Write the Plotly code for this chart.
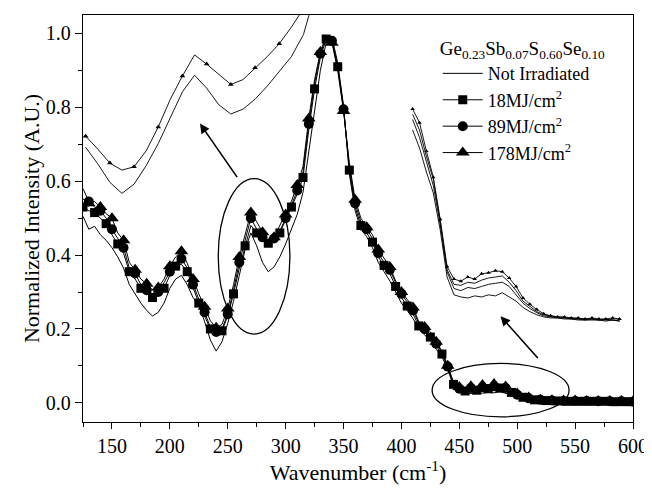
import plotly.graph_objects as go

# ---------------- data ----------------
wavenumber = [125, 130, 135, 140, 145, 150, 155, 160, 165, 170, 175, 180, 185, 190, 195,
              200, 205, 210, 215, 220, 225, 230, 235, 240, 245, 250, 255, 260, 265, 270,
              275, 280, 285, 290, 295, 300, 305, 310, 315, 320, 325, 330, 335, 340, 345,
              350, 355, 360, 365, 370, 375, 380, 385, 390, 395, 400, 405, 410, 415, 420,
              425, 430, 435, 440, 445, 450, 455, 460, 465, 470, 475, 480, 485, 490, 495,
              500, 505, 510, 515, 520, 525, 530, 535, 540, 545, 550, 555, 560, 565, 570,
              575, 580, 585, 590, 595, 600]

not_irradiated = [0.505, 0.470, 0.478, 0.455, 0.440, 0.420, 0.395, 0.365, 0.320, 0.295,
                  0.270, 0.250, 0.235, 0.245, 0.270, 0.310, 0.335, 0.345, 0.320, 0.285,
                  0.265, 0.220, 0.170, 0.140, 0.165, 0.215, 0.275, 0.345, 0.415, 0.460,
                  0.425, 0.380, 0.355, 0.368, 0.395, 0.430, 0.470, 0.510, 0.570, 0.680,
                  0.800, 0.900, 0.975, 0.990, 0.920, 0.805, 0.620, 0.520, 0.470, 0.450,
                  0.420, 0.380, 0.355, 0.330, 0.300, 0.270, 0.250, 0.228, 0.200, 0.185,
                  0.168, 0.145, 0.125, 0.090, 0.045, 0.028, 0.026, 0.025, 0.027, 0.026,
                  0.028, 0.027, 0.030, 0.026, 0.022, 0.016, 0.012, 0.009, 0.007, 0.006,
                  0.006, 0.005, 0.005, 0.004, 0.004, 0.004, 0.004, 0.003, 0.004, 0.003,
                  0.003, 0.003, 0.003, 0.003, 0.002, 0.002]

mj18 = [0.530, 0.520, 0.515, 0.500, 0.485, 0.455, 0.430, 0.405, 0.355, 0.335,
        0.310, 0.295, 0.285, 0.290, 0.310, 0.345, 0.370, 0.375, 0.355, 0.310,
        0.270, 0.235, 0.200, 0.185, 0.195, 0.235, 0.295, 0.365, 0.425, 0.480,
        0.460, 0.440, 0.432, 0.440, 0.460, 0.495, 0.530, 0.565, 0.610, 0.740,
        0.850, 0.935, 0.985, 0.985, 0.910, 0.800, 0.630, 0.530, 0.480, 0.460,
        0.435, 0.395, 0.372, 0.350, 0.315, 0.285, 0.262, 0.240, 0.208, 0.195,
        0.178, 0.155, 0.132, 0.095, 0.050, 0.034, 0.032, 0.035, 0.034, 0.036,
        0.038, 0.039, 0.040, 0.036, 0.028, 0.020, 0.015, 0.011, 0.008, 0.007,
        0.006, 0.006, 0.005, 0.005, 0.004, 0.005, 0.004, 0.004, 0.004, 0.003,
        0.004, 0.003, 0.003, 0.003, 0.003, 0.002]

mj89 = [0.580, 0.545, 0.530, 0.520, 0.500, 0.470, 0.445, 0.420, 0.365, 0.350,
        0.320, 0.305, 0.295, 0.300, 0.325, 0.355, 0.380, 0.390, 0.365, 0.320,
        0.280, 0.245, 0.205, 0.192, 0.200, 0.240, 0.305, 0.380, 0.440, 0.500,
        0.470, 0.448, 0.440, 0.445, 0.465, 0.500, 0.535, 0.575, 0.625, 0.755,
        0.865, 0.945, 0.990, 0.980, 0.905, 0.795, 0.640, 0.540, 0.490, 0.470,
        0.445, 0.405, 0.380, 0.360, 0.325, 0.295, 0.272, 0.250, 0.215, 0.200,
        0.185, 0.160, 0.138, 0.098, 0.052, 0.038, 0.037, 0.040, 0.039, 0.042,
        0.044, 0.045, 0.046, 0.040, 0.032, 0.022, 0.017, 0.012, 0.009, 0.008,
        0.007, 0.006, 0.006, 0.005, 0.005, 0.005, 0.004, 0.005, 0.004, 0.004,
        0.004, 0.004, 0.003, 0.004, 0.003, 0.003]

mj178 = [0.552, 0.540, 0.545, 0.530, 0.512, 0.500, 0.460, 0.440, 0.380, 0.360,
         0.335, 0.322, 0.305, 0.312, 0.335, 0.370, 0.395, 0.410, 0.378, 0.335,
         0.295, 0.260, 0.222, 0.203, 0.212, 0.255, 0.320, 0.395, 0.458, 0.515,
         0.490, 0.462, 0.435, 0.448, 0.480, 0.510, 0.545, 0.590, 0.640, 0.770,
         0.875, 0.950, 0.995, 0.975, 0.900, 0.790, 0.650, 0.550, 0.500, 0.475,
         0.455, 0.415, 0.390, 0.368, 0.330, 0.300, 0.280, 0.258, 0.220, 0.205,
         0.192, 0.165, 0.140, 0.100, 0.055, 0.043, 0.041, 0.045, 0.043, 0.048,
         0.049, 0.051, 0.050, 0.044, 0.036, 0.025, 0.019, 0.014, 0.010, 0.008,
         0.007, 0.007, 0.006, 0.006, 0.005, 0.006, 0.005, 0.005, 0.006, 0.005,
         0.004, 0.005, 0.004, 0.005, 0.004, 0.004]

series_names = ["Not Irradiated", "18MJ/cm<sup>2</sup>", "89MJ/cm<sup>2</sup>", "178MJ/cm<sup>2</sup>"]
legend_title = "Ge<sub>0.23</sub>Sb<sub>0.07</sub>S<sub>0.60</sub>Se<sub>0.10</sub>"

x_ticks = [150, 200, 250, 300, 350, 400, 450, 500, 550, 600]
y_ticks = [0.0, 0.2, 0.4, 0.6, 0.8, 1.0]

# index windows used for the magnified insets
left_inset = slice(20, 41)    # 225 .. 325 cm-1
right_inset = slice(59, 90)   # 420 .. 570 cm-1

# ---------------- figure ----------------
FONT = "Liberation Serif, Times New Roman, serif"
fig = go.Figure()

styles = [
    dict(mode="lines", marker=dict()),
    dict(mode="lines+markers", marker=dict(symbol="square", size=9, maxdisplayed=48)),
    dict(mode="lines+markers", marker=dict(symbol="circle", size=10, maxdisplayed=48)),
    dict(mode="lines+markers", marker=dict(symbol="triangle-up", size=12, maxdisplayed=48)),
]
for name, ys, st in zip(series_names, [not_irradiated, mj18, mj89, mj178], styles):
    m = dict(color="black", **st["marker"])
    fig.add_trace(go.Scatter(x=wavenumber, y=ys, name=name, mode=st["mode"],
                             line=dict(color="black", width=1), marker=m,
                             xaxis="x", yaxis="y"))

# upper-left inset (magnified 225-325 region)
fig.add_trace(go.Scatter(x=wavenumber[left_inset], y=not_irradiated[left_inset], mode="lines",
                         line=dict(color="black", width=0.9), showlegend=False,
                         xaxis="x2", yaxis="y2"))
fig.add_trace(go.Scatter(x=wavenumber[left_inset], y=mj178[left_inset], mode="lines+markers",
                         line=dict(color="black", width=0.9),
                         marker=dict(symbol="triangle-up", size=5, color="black", maxdisplayed=11),
                         showlegend=False, xaxis="x2", yaxis="y2"))

# right inset (magnified 420-570 region)
for ys, mk in [(not_irradiated, False), (mj18, False), (mj89, False), (mj178, True)]:
    fig.add_trace(go.Scatter(x=wavenumber[right_inset], y=ys[right_inset],
                             mode="lines+markers" if mk else "lines",
                             line=dict(color="black", width=0.9),
                             marker=dict(symbol="triangle-up", size=4, color="black"),
                             showlegend=False, xaxis="x3", yaxis="y3"))

tickfont = dict(family=FONT, size=20, color="black")
fig.update_layout(
    template="none",
    width=652, height=495,
    margin=dict(l=75, r=27, t=7, b=81),
    paper_bgcolor="white", plot_bgcolor="white",
    font=dict(family=FONT, color="black", size=20),
    showlegend=True,
    legend=dict(x=0.645, y=0.962, xanchor="left", yanchor="top",
                bgcolor="rgba(0,0,0,0)", font=dict(family=FONT, size=18, color="black"),
                title=dict(text=legend_title, font=dict(family=FONT, size=19, color="black")),
                tracegroupgap=0, itemwidth=40, borderwidth=0),
    xaxis=dict(range=[125, 600], tickvals=x_ticks, ticks="outside", ticklen=6, tickwidth=1,
               tickcolor="black",
               minor=dict(ticks="outside", dtick=25, ticklen=4, tickwidth=1, tick0=125, tickcolor="black"),
               showline=True, linewidth=1.3, linecolor="black", mirror=True,
               showgrid=False, zeroline=False, tickfont=tickfont,
               title=dict(text="Wavenumber (cm<sup>-1</sup>)",
                          font=dict(family=FONT, size=22, color="black"), standoff=6)),
    yaxis=dict(range=[-0.052, 1.05], tickvals=y_ticks, tickformat=".1f", ticks="outside",
               ticklen=7, tickwidth=1, tickcolor="black",
               minor=dict(ticks="outside", dtick=0.1, ticklen=4, tickwidth=1, tick0=0, tickcolor="black"),
               showline=True, linewidth=1.3, linecolor="black", mirror=True,
               showgrid=False, zeroline=False, tickfont=tickfont,
               title=dict(text="Normalized Intensity (A.U.)",
                          font=dict(family=FONT, size=22, color="black"), standoff=0)),
    xaxis2=dict(overlaying="x", anchor="y2", range=[223.9, 451.2], visible=False),
    yaxis2=dict(overlaying="y", anchor="x2", range=[-0.479, 0.623], visible=False),
    xaxis3=dict(overlaying="x", anchor="y3", range=[181.2, 579.7], visible=False),
    yaxis3=dict(overlaying="y", anchor="x3", range=[-0.0931, 0.2945], visible=False),
    xaxis4=dict(overlaying="x", anchor="y", side="top", range=[125, 600], tickvals=x_ticks,
                ticks="inside", ticklen=5, tickcolor="black", showticklabels=False,
                showgrid=False, zeroline=False, showline=False,
                minor=dict(ticks="inside", dtick=25, ticklen=3, tick0=125, tickcolor="black")),
    yaxis4=dict(overlaying="y", anchor="x", side="right", range=[-0.052, 1.05], tickvals=y_ticks,
                ticks="inside", ticklen=5, tickcolor="black", showticklabels=False,
                showgrid=False, zeroline=False, showline=False,
                minor=dict(ticks="inside", dtick=0.1, ticklen=3, tick0=0, tickcolor="black")),
    shapes=[
        dict(type="circle", xref="x", yref="y", x0=241.8, x1=303.7, y0=0.186, y1=0.607,
             line=dict(color="black", width=1.3)),
        dict(type="circle", xref="x", yref="y", x0=426.5, x1=544.8, y0=-0.038, y1=0.1066,
             line=dict(color="black", width=1.3)),
    ],
    annotations=[
        dict(x=226, y=0.756, ax=259, ay=0.607, xref="x", yref="y", axref="x", ayref="y",
             showarrow=True, arrowhead=2, arrowsize=1.2, arrowwidth=1.6, arrowcolor="black", text=""),
        dict(x=485.6, y=0.2345, ax=518.9, ay=0.117, xref="x", yref="y", axref="x", ayref="y",
             showarrow=True, arrowhead=2, arrowsize=1.2, arrowwidth=1.6, arrowcolor="black", text=""),
    ],
)

fig.write_html("out.html")
